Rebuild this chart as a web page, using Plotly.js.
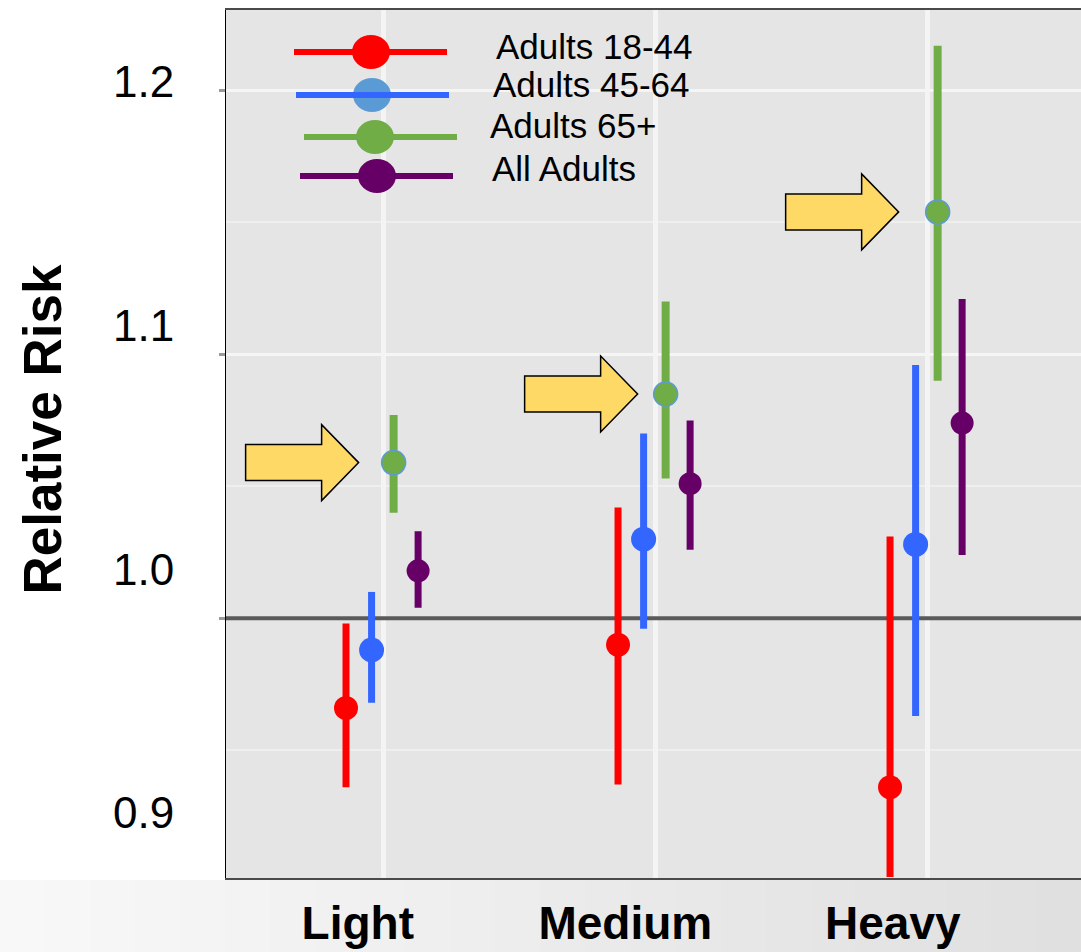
<!DOCTYPE html>
<html>
<head>
<meta charset="utf-8">
<script src="https://cdn.plot.ly/plotly-3.0.1.min.js"></script>
<style>
html,body{margin:0;padding:0;background:#ffffff;}
#chart{width:1081px;height:952px;}
</style>
</head>
<body>
<div id="chart"></div>
<script>
// ---------------- DATA ----------------
const categories = ['Light', 'Medium', 'Heavy'];
const seriesNames = ['Adults 18-44', 'Adults 45-64', 'Adults 65+', 'All Adults'];

const rr_18_44 = [0.966, 0.990, 0.936];
const lo_18_44 = [0.936, 0.937, 0.902];
const hi_18_44 = [0.998, 1.042, 1.031];

const rr_45_64 = [0.988, 1.030, 1.028];
const lo_45_64 = [0.968, 0.996, 0.963];
const hi_45_64 = [1.010, 1.070, 1.096];

const rr_65plus = [1.059, 1.085, 1.154];
const lo_65plus = [1.040, 1.053, 1.090];
const hi_65plus = [1.077, 1.120, 1.217];

const rr_all = [1.018, 1.051, 1.074];
const lo_all = [1.004, 1.026, 1.024];
const hi_all = [1.033, 1.075, 1.121];

const yTickVals = [0.9, 1.0, 1.1, 1.2];
const yTickText = ['0.9', '1.0', '1.1', '1.2'];
const referenceRR = 1.0;
const highlighted = 2; // arrows point at "Adults 65+"

// ---------------- STYLE ----------------
const FONT = 'Liberation Sans, Arial, Helvetica, sans-serif';
const COLORS = ['#ff0000', '#3366ff', '#70ad47', '#660066'];
const LEGEND_FILL = ['#ff0000', '#5b9bd5', '#70ad47', '#660066'];
const DODGE = [-0.136, -0.042, 0.039, 0.129];
const MARKER_SIZE = [24, 25, 24, 23];
const BAR_THICK = [7, 7, 8, 7];
const ARROW_GAP = [35, 28, 39];
const X_RANGE = [0.4228, 3.566];
const Y_RANGE = [0.9016, 1.2305];

const W = 1081, H = 952;
const M = {l: 226, r: 0, t: 10, b: 74};
const PW = W - M.l - M.r, PH = H - M.t - M.b;
const xp = px => (px - M.l) / PW;
const yp = py => (H - M.b - py) / PH;

const series = [
  [rr_18_44, lo_18_44, hi_18_44],
  [rr_45_64, lo_45_64, hi_45_64],
  [rr_65plus, lo_65plus, hi_65plus],
  [rr_all, lo_all, hi_all]
];

const traces = series.map(([rr, lo, hi], i) => ({
  type: 'scatter',
  mode: 'markers',
  name: seriesNames[i],
  x: categories.map((c, j) => j + 1 + DODGE[i]),
  y: rr,
  error_y: {
    type: 'data', symmetric: false,
    array: rr.map((v, j) => hi[j] - v),
    arrayminus: rr.map((v, j) => v - lo[j]),
    color: COLORS[i], thickness: BAR_THICK[i], width: 0
  },
  marker: {
    color: COLORS[i], size: MARKER_SIZE[i],
    line: {color: i === highlighted ? '#5b9bd5' : COLORS[i], width: i === highlighted ? 1.5 : 0}
  },
  showlegend: false,
  hoverinfo: 'skip'
}));

// carriers for the label axes
traces.push({type: 'scatter', mode: 'markers', x: [null], y: [null], xaxis: 'x2', yaxis: 'y', showlegend: false, hoverinfo: 'skip'});
traces.push({type: 'scatter', mode: 'markers', x: [null], y: [null], xaxis: 'x', yaxis: 'y2', showlegend: false, hoverinfo: 'skip'});

// ---------------- SHAPES ----------------
const shapes = [];

// bottom background band (slide texture)
const NB = 24;
for (let k = 0; k < NB; k++) {
  const g = Math.round(248 - (248 - 224) * k / (NB - 1));
  shapes.push({
    type: 'rect', xref: 'paper', yref: 'paper', layer: 'below',
    x0: xp(k * W / NB), x1: xp((k + 1) * W / NB + 1),
    y0: yp(H), y1: yp(880),
    fillcolor: `rgb(${g},${g},${g})`, line: {width: 0}
  });
}

// reference line at RR = 1 (between gridlines and data)
shapes.push({
  type: 'line', xref: 'x', yref: 'y', layer: 'between',
  x0: X_RANGE[0], x1: X_RANGE[1], y0: referenceRR, y1: referenceRR,
  line: {color: '#5a5a5a', width: 4}
});

// arrows pointing to highlighted series
function arrowPath(gap) {
  const t = -gap;
  return `M ${t - 113} 18 L ${t - 37} 18 L ${t - 37} 38 L ${t} 0 L ${t - 37} -38 L ${t - 37} -18 L ${t - 113} -18 Z`;
}
categories.forEach((c, j) => {
  shapes.push({
    type: 'path', xref: 'x', yref: 'y',
    xsizemode: 'pixel', ysizemode: 'pixel',
    xanchor: j + 1 + DODGE[highlighted], yanchor: series[highlighted][0][j],
    path: arrowPath(ARROW_GAP[j]),
    fillcolor: '#ffd966', line: {color: '#000000', width: 1.5}
  });
});

// custom legend
const LEG = [
  {y: 52, x0: 294, x1: 447, cx: 371, tx: 494, ty: 46, lineTop: false},
  {y: 95, x0: 296, x1: 449, cx: 372, tx: 491, ty: 85, lineTop: true},
  {y: 137, x0: 304, x1: 457, cx: 375, tx: 488, ty: 126, lineTop: false},
  {y: 176, x0: 300, x1: 453, cx: 377, tx: 490, ty: 168, lineTop: false}
];
const annotations = [];
LEG.forEach((r, i) => {
  const line = {
    type: 'line', xref: 'paper', yref: 'paper',
    x0: xp(r.x0), x1: xp(r.x1), y0: yp(r.y), y1: yp(r.y),
    line: {color: COLORS[i], width: 6}
  };
  const circ = {
    type: 'circle', xref: 'paper', yref: 'paper',
    xsizemode: 'pixel', ysizemode: 'pixel',
    xanchor: xp(r.cx), yanchor: yp(r.y),
    x0: -19, x1: 19, y0: -17, y1: 17,
    fillcolor: LEGEND_FILL[i], line: {width: 0}
  };
  if (r.lineTop) { shapes.push(circ, line); } else { shapes.push(line, circ); }
  annotations.push({
    xref: 'paper', yref: 'paper', x: xp(r.tx), y: yp(r.ty),
    xanchor: 'left', yanchor: 'middle', showarrow: false,
    text: seriesNames[i], font: {family: FONT, size: 35, color: '#000000'}
  });
});

// y axis title
annotations.push({
  xref: 'paper', yref: 'paper', x: xp(41.5), y: yp(430),
  xanchor: 'center', yanchor: 'middle', showarrow: false, textangle: -90,
  text: 'Relative Risk', font: {family: FONT, size: 53, color: '#000000', weight: 'bold'}
});

// ---------------- LAYOUT ----------------
const layout = {
  width: W, height: H,
  margin: M,
  paper_bgcolor: '#ffffff',
  plot_bgcolor: '#e5e5e5',
  showlegend: false,
  font: {family: FONT, color: '#000000'},
  xaxis: {
    range: X_RANGE,
    tickvals: categories.map((c, j) => j + 1),
    showticklabels: false, ticks: '',
    showgrid: true, gridcolor: '#f4f4f4', gridwidth: 5,
    zeroline: false,
    showline: true, mirror: true, linecolor: '#4a4a4a', linewidth: 2
  },
  yaxis: {
    range: Y_RANGE,
    tickmode: 'array', tickvals: yTickVals,
    showticklabels: false,
    ticks: 'outside', ticklen: 6, tickwidth: 3, tickcolor: '#9a9a9a',
    showgrid: true, gridcolor: '#f5f5f5', gridwidth: 3,
    minor: {dtick: 0.05, tick0: 0.9, showgrid: true, gridcolor: '#efefef', gridwidth: 2, ticks: ''},
    zeroline: false,
    showline: true, linecolor: '#000000', linewidth: 1.5
  },
  xaxis2: {
    overlaying: 'x', anchor: 'y', side: 'bottom',
    range: [0.5073, 3.7036],
    tickmode: 'array', tickvals: categories.map((c, j) => j + 1), ticktext: categories,
    tickfont: {family: FONT, size: 46, color: '#000000', weight: 'bold'},
    ticks: 'outside', ticklen: 5, tickcolor: 'rgba(0,0,0,0)',
    showgrid: false, zeroline: false, showline: false
  },
  yaxis2: {
    overlaying: 'y', anchor: 'x', side: 'left',
    range: [0.87332, 1.22935],
    tickmode: 'array', tickvals: yTickVals, ticktext: yTickText,
    tickfont: {family: FONT, size: 44, color: '#000000'},
    ticks: 'outside', ticklen: 42, tickcolor: 'rgba(0,0,0,0)',
    showgrid: false, zeroline: false, showline: false
  },
  shapes: shapes,
  annotations: annotations
};

Plotly.newPlot('chart', traces, layout, {staticPlot: true, displayModeBar: false});
</script>
</body>
</html>
